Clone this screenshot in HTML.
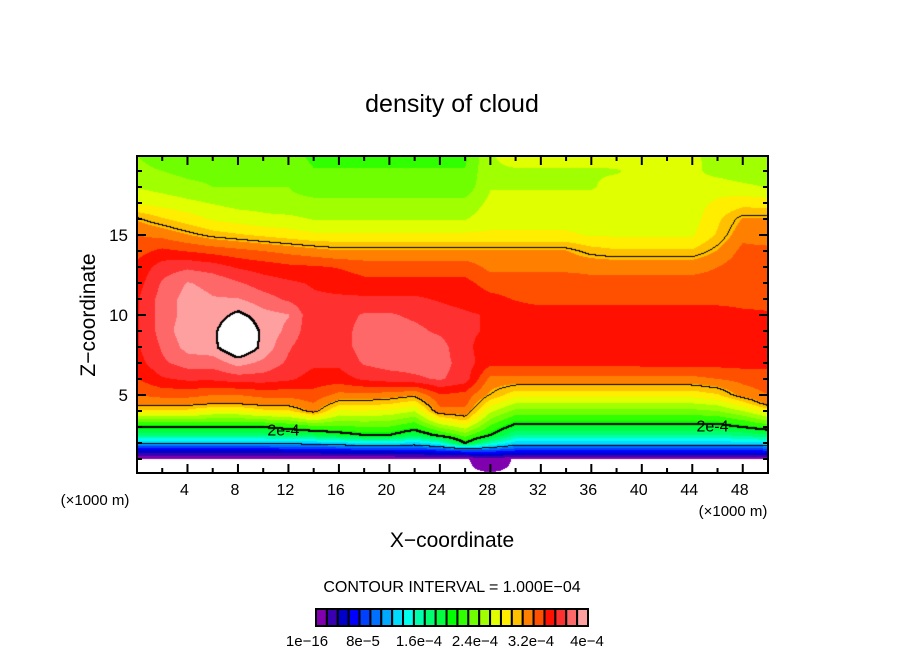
<!DOCTYPE html>
<html><head><meta charset="utf-8"><style>
html,body{margin:0;padding:0;background:#fff;}
#wrap{position:relative;width:904px;height:654px;overflow:hidden;font-family:"Liberation Sans",sans-serif;}
canvas{position:absolute;left:137px;top:156px;}
svg{position:absolute;left:0;top:0;}
</style></head><body>
<div id="wrap">
<canvas id="field" width="631" height="317"></canvas>
<svg id="ov" width="904" height="654"></svg>
</div>
<script>
// grid coordinates (x in 1000 m, z in 1000 m)
const xGrid = [0,2,4,6,8,10,12,14,16,18,20,22,24,26,28,30,32,34,36,38,40,42,44,46,48,50];
const zGrid = [0,1,1.5,2,2.5,3,3.5,4,4.5,5,6,7,8,9,10,11,12,13,14,15,16,17,18,19,20];
// density values in units of 1e-4, one row per zGrid level
const density = [
[0,0,0,0,0,0,0,0,0,0,0,0,0,0,0,0,0,0,0,0,0,0,0,0,0,0],
[0,0,0,0,0,0,0,0,0,0,0,0,0,0,0.12,0,0,0,0,0,0,0,0,0,0,0],
[0.4,0.4,0.4,0.4,0.4,0.4,0.45,0.45,0.5,0.5,0.5,0.55,0.6,0.7,0.7,0.6,0.6,0.6,0.6,0.6,0.6,0.6,0.6,0.6,0.6,0.6],
[1.1,1.1,1.1,1.1,1.1,1.1,1.1,1.15,1.2,1.3,1.3,1.2,1.4,2.0,1.5,1.2,1.2,1.2,1.2,1.2,1.2,1.2,1.2,1.2,1.2,1.25],
[1.7,1.7,1.7,1.7,1.7,1.7,1.75,1.8,1.9,2.0,2.0,1.8,2.07,2.31,2.0,1.6,1.6,1.6,1.6,1.6,1.6,1.6,1.6,1.6,1.65,1.75],
[2.0,2.0,2.0,2.0,2.0,2.0,2.08,2.18,2.2,2.24,2.23,2.1,2.43,2.63,2.2,1.9,1.9,1.9,1.9,1.9,1.9,1.9,1.9,1.9,2.0,2.13],
[2.42,2.42,2.42,2.36,2.36,2.42,2.46,2.64,2.45,2.48,2.45,2.33,2.79,2.94,2.4,2.13,2.13,2.13,2.13,2.13,2.13,2.13,2.13,2.15,2.28,2.47],
[2.83,2.83,2.83,2.71,2.71,2.83,2.85,3.09,2.7,2.71,2.68,2.57,3.14,3.15,2.6,2.35,2.35,2.35,2.35,2.35,2.35,2.35,2.35,2.4,2.56,2.8],
[3.1,3.1,3.1,3.05,3.05,3.1,3.1,3.2,2.95,2.95,2.91,2.81,3.25,3.25,2.8,2.57,2.57,2.57,2.57,2.57,2.57,2.57,2.57,2.63,2.83,3.1],
[3.2,3.25,3.25,3.2,3.2,3.25,3.25,3.3,3.15,3.15,3.12,3.05,3.35,3.3,3.0,2.78,2.78,2.78,2.78,2.78,2.78,2.78,2.78,2.86,3.1,3.2],
[3.35,3.5,3.55,3.55,3.6,3.6,3.55,3.45,3.45,3.55,3.6,3.65,3.7,3.6,3.15,3.15,3.15,3.15,3.15,3.15,3.15,3.15,3.15,3.2,3.25,3.3],
[3.45,3.65,3.75,3.75,3.9,3.8,3.65,3.55,3.55,3.7,3.75,3.75,3.75,3.6,3.4,3.4,3.4,3.4,3.4,3.4,3.42,3.42,3.42,3.42,3.42,3.4],
[3.5,3.7,3.9,3.95,4.2,3.95,3.7,3.55,3.6,3.75,3.78,3.8,3.75,3.55,3.45,3.48,3.48,3.48,3.48,3.48,3.48,3.48,3.48,3.48,3.48,3.45],
[3.5,3.75,3.95,3.95,4.25,3.95,3.8,3.55,3.6,3.75,3.75,3.72,3.65,3.55,3.5,3.48,3.48,3.48,3.48,3.48,3.48,3.48,3.48,3.48,3.48,3.45],
[3.5,3.75,3.9,3.9,4.05,3.9,3.85,3.55,3.6,3.7,3.7,3.65,3.6,3.55,3.5,3.45,3.45,3.45,3.45,3.45,3.45,3.45,3.45,3.45,3.4,3.38],
[3.5,3.75,3.9,3.85,3.85,3.75,3.65,3.55,3.55,3.55,3.55,3.55,3.5,3.45,3.4,3.35,3.3,3.3,3.3,3.3,3.3,3.3,3.3,3.3,3.3,3.3],
[3.45,3.7,3.85,3.8,3.7,3.6,3.55,3.5,3.45,3.4,3.4,3.4,3.4,3.4,3.3,3.3,3.3,3.3,3.25,3.25,3.25,3.25,3.25,3.25,3.25,3.25],
[3.4,3.6,3.65,3.6,3.5,3.45,3.4,3.38,3.35,3.3,3.3,3.3,3.3,3.3,3.15,3.15,3.15,3.15,3.15,3.15,3.15,3.15,3.15,3.2,3.3,3.3],
[3.3,3.4,3.35,3.3,3.25,3.2,3.15,3.1,3.05,3.05,3.05,3.05,3.05,3.05,3.05,3.05,3.05,3.05,2.95,2.9,2.9,2.9,2.9,3.05,3.25,3.25],
[3.2,3.15,3.05,2.95,2.9,2.85,2.8,2.75,2.75,2.75,2.75,2.75,2.75,2.75,2.75,2.75,2.75,2.75,2.7,2.7,2.7,2.7,2.7,2.9,3.15,3.1],
[3.02,2.9,2.8,2.7,2.65,2.6,2.6,2.55,2.55,2.55,2.55,2.55,2.55,2.55,2.65,2.65,2.65,2.65,2.65,2.65,2.65,2.65,2.65,2.85,3.05,3.05],
[2.7,2.65,2.6,2.55,2.5,2.5,2.45,2.45,2.45,2.45,2.45,2.45,2.45,2.45,2.6,2.6,2.6,2.6,2.6,2.65,2.65,2.65,2.65,2.75,2.82,2.8],
[2.55,2.5,2.45,2.4,2.4,2.4,2.4,2.3,2.3,2.3,2.3,2.3,2.3,2.3,2.55,2.55,2.55,2.55,2.55,2.6,2.6,2.6,2.6,2.65,2.6,2.55],
[2.45,2.4,2.35,2.35,2.35,2.35,2.35,2.25,2.25,2.25,2.25,2.25,2.25,2.25,2.55,2.55,2.55,2.55,2.55,2.55,2.6,2.6,2.6,2.5,2.45,2.45],
[2.4,2.3,2.3,2.3,2.3,2.3,2.3,2.2,2.2,2.2,2.2,2.2,2.2,2.2,2.55,2.6,2.6,2.6,2.6,2.62,2.62,2.62,2.62,2.45,2.4,2.4]
];
const contourLevels = [1,2,3,4];
const xTicks = [4,8,12,16,20,24,28,32,36,40,44,48];
const zTicks = [5,10,15];
const barLabels = ["1e-16","8e-5","1.6e-4","2.4e-4","3.2e-4","4e-4"];
const palette = ["#8000b0","#3800b0","#0000c8","#0000ff","#0040ff","#0070ff","#00a8ff","#00dcff","#00ffee","#00ffaa","#00ff70","#00ff40","#00ff00","#30ff00","#70ff00","#a0ff00","#e0ff00","#ffee00","#ffc000","#ff8000","#ff5000","#ff1000","#ff3030","#ff6868","#ffa0a0"];
const step = 0.16;

const PX0=137, PY0=156, PW=631, PH=317;
const XMAX=50, PXU=PW/XMAX, PZU=16, ZBASE=475;
function sx(x){return PX0 + x*PXU;}
function sy(z){return ZBASE - z*PZU;}

function interp(x,z){
  let i=0; while(i<xGrid.length-2 && x>xGrid[i+1]) i++;
  let j=0; while(j<zGrid.length-2 && z>zGrid[j+1]) j++;
  let tx=(x-xGrid[i])/(xGrid[i+1]-xGrid[i]); tx=Math.max(0,Math.min(1,tx));
  let tz=(z-zGrid[j])/(zGrid[j+1]-zGrid[j]); tz=Math.max(0,Math.min(1,tz));
  const a=density[j][i],b=density[j][i+1],c=density[j+1][i],d=density[j+1][i+1];
  return (a*(1-tx)+b*tx)*(1-tz)+(c*(1-tx)+d*tx)*tz;
}
function hex(h){return [parseInt(h.slice(1,3),16),parseInt(h.slice(3,5),16),parseInt(h.slice(5,7),16)];}
const rgb = palette.map(hex);

const cv=document.getElementById('field'), ctx=cv.getContext('2d');
const img=ctx.createImageData(PW,PH);
const V=new Float32Array(PW*PH);
for(let py=0;py<PH;py++){
  const z=(ZBASE-(PY0+py+0.5))/PZU;
  for(let px=0;px<PW;px++){
    const x=(px+0.5)/PXU;
    V[py*PW+px]=interp(x,z);
  }
}
for(let k=0;k<PW*PH;k++){
  const v=V[k]; let c;
  if(v<0.02||v>=4.0) c=[255,255,255];
  else c=rgb[Math.min(palette.length-1,Math.floor(v/step))];
  img.data[k*4]=c[0];img.data[k*4+1]=c[1];img.data[k*4+2]=c[2];img.data[k*4+3]=255;
}
const widths={1:1,2:2,3:1,4:2};
for(const L of contourLevels){
  const w=widths[L];
  for(let py=0;py<PH-1;py++)for(let px=0;px<PW-1;px++){
    const k=py*PW+px, s=V[k]>=L;
    if(s!==(V[k+1]>=L) || s!==(V[k+PW]>=L)){
      for(let dy=0;dy<w;dy++)for(let dx=0;dx<w;dx++){
        const q=(py+dy)*PW+(px+dx); if(py+dy<PH&&px+dx<PW){img.data[q*4]=0;img.data[q*4+1]=0;img.data[q*4+2]=0;}
      }
    }
  }
}
ctx.putImageData(img,0,0);

const NS='http://www.w3.org/2000/svg', svg=document.getElementById('ov');
function el(t,attrs,txt){const e=document.createElementNS(NS,t);for(const k in attrs)e.setAttribute(k,attrs[k]);if(txt!==undefined)e.textContent=txt;svg.appendChild(e);return e;}
let e;
e=el('text',{x:452,y:112,'font-size':25,'text-anchor':'middle','font-family':'Liberation Sans, sans-serif'},'density of cloud');


for(const p of [[11.6,2.85],[45.6,3.1]]){
  e=el('text',{x:sx(p[0]),y:sy(p[1])+6,'font-size':16,'text-anchor':'middle'},'2e-4');
  
  
}
e=el('rect',{x:PX0,y:PY0,width:PW,height:PH,fill:'none',stroke:'#000','stroke-width':2});


for(let x=2;x<50;x+=2){
  const major=x%4===0, len=major?9:5;
  e=el('line',{x1:sx(x),x2:sx(x),y1:PY0+PH,y2:PY0+PH-len,stroke:'#000','stroke-width':2});
  
  
  e=el('line',{x1:sx(x),x2:sx(x),y1:PY0,y2:PY0+len,stroke:'#000','stroke-width':2});
  
  
}
for(const t of xTicks){
  e=el('text',{x:sx(t)-3,y:495,'font-size':16,'text-anchor':'middle'},String(t));
  
  
}
for(let z=1;z<20;z++){
  const major=z%5===0, len=major?9:5;
  e=el('line',{x1:PX0,x2:PX0+len,y1:sy(z),y2:sy(z),stroke:'#000','stroke-width':2});
  
  
  e=el('line',{x1:PX0+PW,x2:PX0+PW-len,y1:sy(z),y2:sy(z),stroke:'#000','stroke-width':2});
  
  
}
for(const t of zTicks){
  e=el('text',{x:128,y:sy(t)+6,'font-size':17,'text-anchor':'end'},String(t));
  
  
}
e=el('text',{x:95,y:315,'font-size':21,'text-anchor':'middle',transform:'rotate(-90 95 315)'},'Z\u2212coordinate');


e=el('text',{x:452,y:547,'font-size':21,'text-anchor':'middle'},'X\u2212coordinate');


e=el('text',{x:95,y:505,'font-size':15,'text-anchor':'middle'},'(\u00d71000 m)');


e=el('text',{x:733,y:516,'font-size':15,'text-anchor':'middle'},'(\u00d71000 m)');


e=el('text',{x:452,y:592,'font-size':16,'text-anchor':'middle'},'CONTOUR INTERVAL = 1.000E\u221204');


const CB0=316, CBW=272/palette.length;
for(let i=0;i<palette.length;i++){
  e=el('rect',{x:CB0+i*CBW,y:609,width:CBW,height:17,fill:palette[i],stroke:'#000','stroke-width':2});
  
  
}
for(let i=0;i<barLabels.length;i++){
  e=el('text',{x:307+i*56,y:646,'font-size':15,'text-anchor':'middle'},barLabels[i].replace(/-/g,'\u2212'));
  
  
}
</script>
</body></html>
